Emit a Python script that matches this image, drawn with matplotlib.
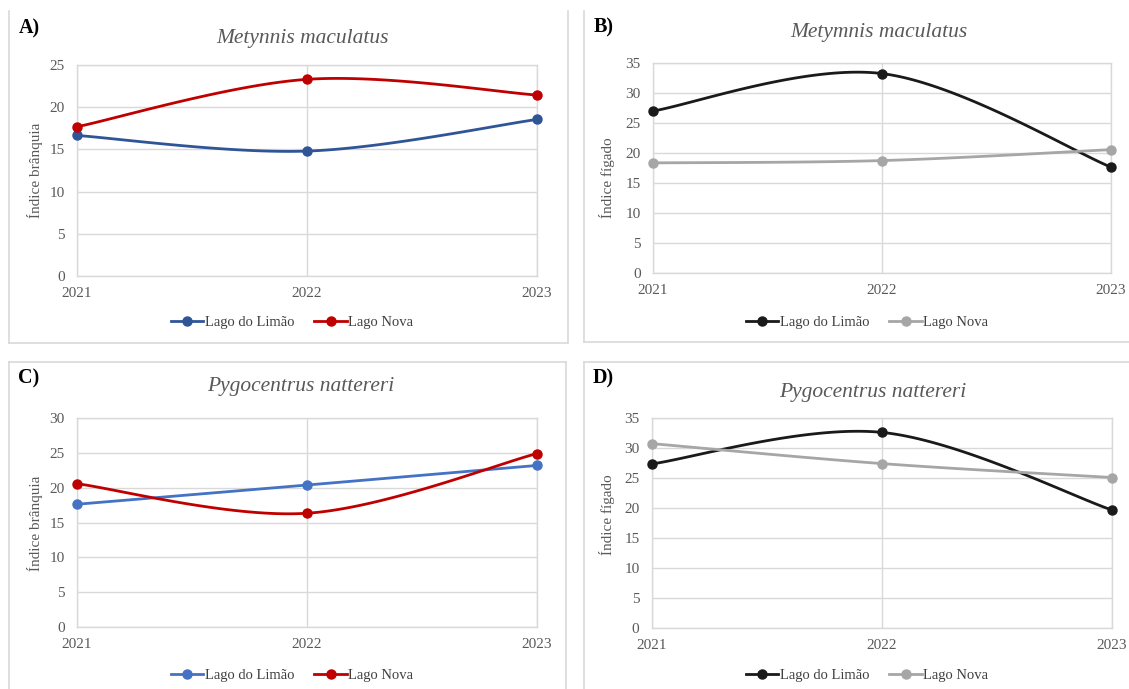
import numpy as np
import matplotlib
matplotlib.use("Agg")
import matplotlib.pyplot as plt
from matplotlib.lines import Line2D

# ---- data ----
years = ["2021", "2022", "2023"]
series_names = ["Lago do Limão", "Lago Nova"]

a_limao = [16.65, 14.8, 18.55]
a_nova = [17.68, 23.3, 21.44]

b_limao = [27.0, 33.24, 17.64]
b_nova = [18.35, 18.74, 20.56]

c_limao = [17.62, 20.38, 23.19]
c_nova = [20.57, 16.33, 24.9]

d_limao = [27.35, 32.6, 19.66]
d_nova = [30.73, 27.4, 25.08]

W, H = 1129, 689
plt.rcParams["font.family"] = ["Liberation Serif", "DejaVu Serif"]

fig = plt.figure(figsize=(W / 100, H / 100), dpi=100)
fig.patch.set_facecolor("white")

GRID = "#d9d9d9"
TXT = "#595959"


def fx(px):
    return px / W


def fy(py):
    return 1 - py / H


def smooth(yvals, n=60):
    """Catmull-Rom style smoothing (as used by spreadsheet 'smoothed line')."""
    pts = np.column_stack([np.arange(len(yvals), dtype=float), np.asarray(yvals, float)])
    xs, ys = [], []
    for i in range(len(pts) - 1):
        p0 = pts[i - 1] if i > 0 else pts[i]
        p1 = pts[i]
        p2 = pts[i + 1]
        p3 = pts[i + 2] if i + 2 < len(pts) else pts[i + 1]
        c1 = p1 + (p2 - p0) / 6.0
        c2 = p2 - (p3 - p1) / 6.0
        t = np.linspace(0, 1, n)[:, None]
        b = ((1 - t) ** 3) * p1 + 3 * ((1 - t) ** 2) * t * c1 + 3 * (1 - t) * t ** 2 * c2 + t ** 3 * p2
        xs.append(b[:, 0])
        ys.append(b[:, 1])
    return np.concatenate(xs), np.concatenate(ys)


def panel(box, s1, s2, colors, ymax, title, ylabel, letter, title_pos, letter_pos,
          ylabel_pos, legend_pos):
    l, r, t, b = box
    ax = fig.add_axes([fx(l), fy(b), fx(r - l), (b - t) / H])
    x = np.arange(len(years))
    for vals, col, name in zip((s1, s2), colors, series_names):
        sx, sy = smooth(vals)
        ax.plot(sx, sy, color=col, lw=2.0, solid_capstyle="round", zorder=3, clip_on=False)
        ax.plot(x, vals, "o", color=col, ms=6.5, zorder=4, clip_on=False)
    ax.set_xlim(0, len(years) - 1)
    ax.set_ylim(0, ymax)
    ax.set_xticks(x)
    ax.set_xticklabels(years)
    ax.set_yticks(np.arange(0, ymax + 1, 5))
    ax.grid(True, color=GRID, lw=1.0)
    ax.set_axisbelow(True)
    for sp in ax.spines.values():
        sp.set_color(GRID)
        sp.set_linewidth(1.0)
    ax.tick_params(length=0, labelsize=11, colors=TXT)
    ax.tick_params(axis="x", pad=8)
    ax.tick_params(axis="y", pad=9)

    fig.text(fx(title_pos[0]), fy(title_pos[1]), title, ha="center", va="center",
             fontsize=15.5, style="italic", color=TXT)
    fig.text(fx(letter_pos[0]), fy(letter_pos[1]), letter, ha="left", va="center",
             fontsize=14.5, fontweight="bold", color="black")
    fig.text(fx(ylabel_pos[0]), fy(ylabel_pos[1]), ylabel, ha="center", va="center",
             rotation=90, fontsize=11, color=TXT)

    handles = [Line2D([], [], color=c, lw=2.0, marker="o", ms=6.5) for c in colors]
    fig.legend(handles, series_names, loc="center",
               bbox_to_anchor=(fx(legend_pos[0]), fy(legend_pos[1])),
               ncol=2, frameon=False, fontsize=10.5, labelcolor="#404040",
               handlelength=2.2, handletextpad=0.1, columnspacing=1.4)
    return ax


blue_a = "#2f5597"
blue_c = "#4472c4"
red = "#c00000"
black = "#1a1a1a"
gray = "#a6a6a6"

panel((77, 537, 65, 276), a_limao, a_nova, (blue_a, red), 25,
      "Metynnis maculatus", "Índice brânquia", "A)",
      (302, 38), (19, 28), (35, 170), (292, 322))
panel((653, 1111, 63, 273), b_limao, b_nova, (black, gray), 35,
      "Metymnis maculatus", "Índice fígado", "B)",
      (879, 32), (594, 27), (607, 178), (867, 322))
panel((77, 537, 418, 627), c_limao, c_nova, (blue_c, red), 30,
      "Pygocentrus nattereri", "Índice brânquia", "C)",
      (301, 387), (18, 378), (35, 523), (292, 675))
panel((652, 1112, 418, 628), d_limao, d_nova, (black, gray), 35,
      "Pygocentrus nattereri", "Índice fígado", "D)",
      (873, 392), (593, 378), (607, 515), (867, 675))

# panel frames
FRAME = "#d9d9d9"


def fline(x0, y0, x1, y1):
    fig.add_artist(Line2D([fx(x0), fx(x1)], [fy(y0), fy(y1)], color=FRAME, lw=1.2,
                          transform=fig.transFigure))


fline(9, 11, 9, 343); fline(9, 343, 568, 343); fline(568, 11, 568, 343)
fline(584, 11, 584, 342); fline(584, 342, 1129, 342)
fline(9, 362, 566, 362); fline(9, 362, 9, 689); fline(566, 362, 566, 689)
fline(584, 362, 1129, 362); fline(584, 362, 584, 689)

fig.savefig("out.png", dpi=100, facecolor="white")
